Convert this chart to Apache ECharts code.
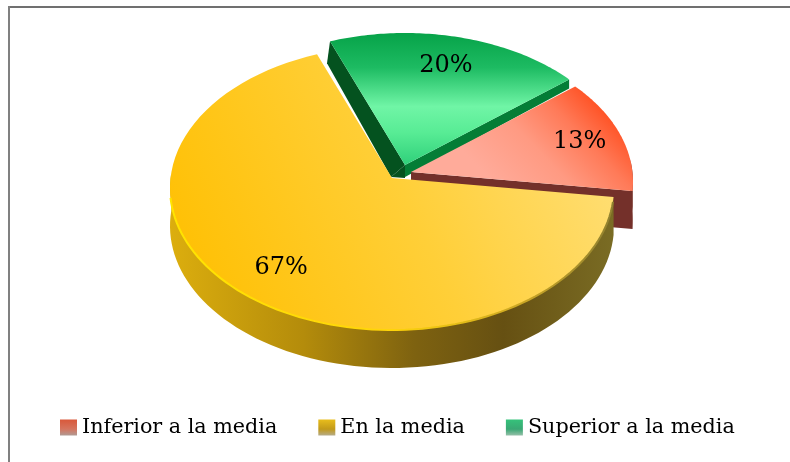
<!DOCTYPE html>
<html>
<head>
<meta charset="utf-8">
<style>html,body{margin:0;padding:0;background:#fff}#main{width:790px;height:462px}</style>
<script src="https://cdn.jsdelivr.net/npm/echarts@6/dist/echarts.min.js"></script>
</head>
<body>
<div id="main"></div>
<script>
var categories = ['Inferior a la media', 'En la media', 'Superior a la media'];
var values = [13, 67, 20];

var startAngle = 50.8; // clockwise from 12 o'clock
var rx = 222, ry = 142, rimDrop = 10;
// apex of each exploded slice on the page
var apexX = [411, 392, 405];
var apexY = [172, 178, 165];
var depth = [38, 38, 22];
var labelRadius = [0.79, 0.807, 0.72];
var LG = echarts.graphic.LinearGradient;

var total = values.reduce(function (a, b) { return a + b; }, 0);
var starts = [];
values.reduce(function (acc, v, i) { starts[i] = acc; return acc + v / total * 360; }, startAngle);

function dir(deg) {
    var a = deg * Math.PI / 180;
    return [Math.sin(a), -Math.cos(a)];
}
// ray from the apex hits the rim ellipse, whose centre sits rimDrop below the apex
function rimPoint(i, deg) {
    var d = dir(deg);
    var k = rimDrop / ry;
    var b = k * d[1];
    var t = b + Math.sqrt(b * b - (k * k - 1));
    return [apexX[i] + rx * d[0] * t, apexY[i] + ry * d[1] * t];
}
function arc(i, from, to) {
    var pts = [], n = 80;
    for (var s = 0; s <= n; s++) pts.push(rimPoint(i, from + (to - from) * s / n));
    return pts;
}
function shift(pts, dy) {
    return pts.map(function (p) { return [p[0], p[1] + dy]; });
}
function poly(points, fill) {
    return { type: 'polygon', shape: { points: points }, style: { fill: fill } };
}
// cut side of a slice; the two lower corners are offsets from the rim end and the apex
function cutFace(i, deg, fill, rimDx, rimDy, innerDx, innerDy) {
    var a = [apexX[i], apexY[i]], p = rimPoint(i, deg);
    return poly([a, p, [p[0] + rimDx, p[1] + rimDy], [a[0] + innerDx, a[1] + innerDy]], fill);
}
function label(i, from, to, value) {
    var d = dir((from + to) / 2);
    return {
        type: 'text',
        style: {
            text: value + '%',
            x: apexX[i] + rx * d[0] * labelRadius[i],
            y: apexY[i] + ry * d[1] * labelRadius[i],
            fill: '#000',
            font: '24px "DejaVu Serif"',
            align: 'center',
            verticalAlign: 'middle'
        }
    };
}

var renderers = [
    function (from, to, v) {
        var i = 0, face = arc(i, from, to);
        var band = arc(i, 85, to);
        return [
            poly(band.concat(shift(band, depth[i]).reverse()), '#7a352c'),
            cutFace(i, to, '#74302a', 0, depth[i], 0, depth[i]),
            poly([[apexX[i], apexY[i]]].concat(face), new LG(600, 95, 500, 190, [
                { offset: 0, color: '#ff4a1a' },
                { offset: 0.3, color: '#ff7a58' },
                { offset: 0.6, color: '#ff9a82' },
                { offset: 1, color: '#ffab9a' }
            ], true)),
            label(i, from, to, v)
        ];
    },
    function (from, to, v) {
        var i = 1, face = arc(i, from, to);
        var band = arc(i, from, 272);
        return [
            poly(band.concat(shift(band, depth[i]).reverse()), new LG(170, 0, 614, 0, [
                { offset: 0, color: '#dcae0e' },
                { offset: 0.3, color: '#b48c0b' },
                { offset: 0.55, color: '#7e6210' },
                { offset: 0.75, color: '#665012' },
                { offset: 1, color: '#7a6c24' }
            ], true)),
            poly([[apexX[i], apexY[i]]].concat(face), new LG(230, 330, 620, 150, [
                { offset: 0, color: '#ffc107' },
                { offset: 0.5, color: '#ffcf38' },
                { offset: 1, color: '#ffdf78' }
            ], true)),
            {
                type: 'polyline',
                shape: { points: arc(i, from + 2, 262) },
                style: {
                    fill: null,
                    lineWidth: 2,
                    stroke: new LG(170, 0, 614, 0, [
                        { offset: 0, color: '#ffe400' },
                        { offset: 0.5, color: '#ffd40a' },
                        { offset: 0.8, color: '#c9a525' },
                        { offset: 1, color: '#8f8030' }
                    ], true)
                }
            },
            label(i, from, to, v)
        ];
    },
    function (from, to, v) {
        var i = 2, face = arc(i, from, to);
        return [
            cutFace(i, to, '#047d36', 0, 9, 0, 12),
            cutFace(i, from, '#04521f', -3, depth[i], -14, 12),
            poly([[apexX[i], apexY[i]], [apexX[i] - 14, apexY[i] + 12], [apexX[i], apexY[i] + 13]], '#04521f'),
            poly([[apexX[i], apexY[i]]].concat(face), new LG(0, 35, 0, 165, [
                { offset: 0, color: '#08a44a' },
                { offset: 0.25, color: '#1dbb62' },
                { offset: 0.55, color: '#70f5a6' },
                { offset: 0.75, color: '#58ec95' },
                { offset: 1, color: '#2fd07a' }
            ], true)),
            label(i, from, to, v)
        ];
    }
];

var swatches = [
    new LG(0, 0, 0, 1, [{ offset: 0, color: '#d9583a' }, { offset: 0.6, color: '#d5755f' }, { offset: 1, color: '#b09a94' }]),
    new LG(0, 0, 0, 1, [{ offset: 0, color: '#e8bd1c' }, { offset: 0.6, color: '#c29a1a' }, { offset: 1, color: '#b5ab88' }]),
    new LG(0, 0, 0, 1, [{ offset: 0, color: '#35c27a' }, { offset: 0.6, color: '#3aa874' }, { offset: 1, color: '#95bfa8' }])
];

// paint order: green at the back, then red, yellow in front
var order = [2, 0, 1];
var series = order.map(function (idx, pos) {
    return {
        name: categories[idx],
        type: 'custom',
        coordinateSystem: 'none',
        z: 2 + pos,
        silent: true,
        itemStyle: { color: swatches[idx] },
        data: [values[idx]],
        renderItem: function (params, api) {
            var v = api.value(0);
            var from = starts[idx], to = from + v / total * 360;
            return { type: 'group', children: renderers[idx](from, to, v) };
        }
    };
});

var myChart = echarts.init(document.getElementById('main'), null, { renderer: 'canvas' });
var option = {
    animation: false,
    backgroundColor: '#fff',
    graphic: [
        { type: 'line', silent: true, shape: { x1: 8, y1: 7, x2: 790, y2: 7 }, style: { stroke: '#707070', lineWidth: 2 } },
        { type: 'line', silent: true, shape: { x1: 9, y1: 6, x2: 9, y2: 462 }, style: { stroke: '#808080', lineWidth: 2 } }
    ],
    legend: {
        left: 55,
        top: 412,
        icon: 'rect',
        itemWidth: 17,
        itemHeight: 16,
        itemGap: 41,
        data: categories,
        selectedMode: false,
        textStyle: { fontFamily: 'DejaVu Serif', fontSize: 20.7, color: '#000' }
    },
    series: series
};
myChart.setOption(option);
</script>
</body>
</html>
